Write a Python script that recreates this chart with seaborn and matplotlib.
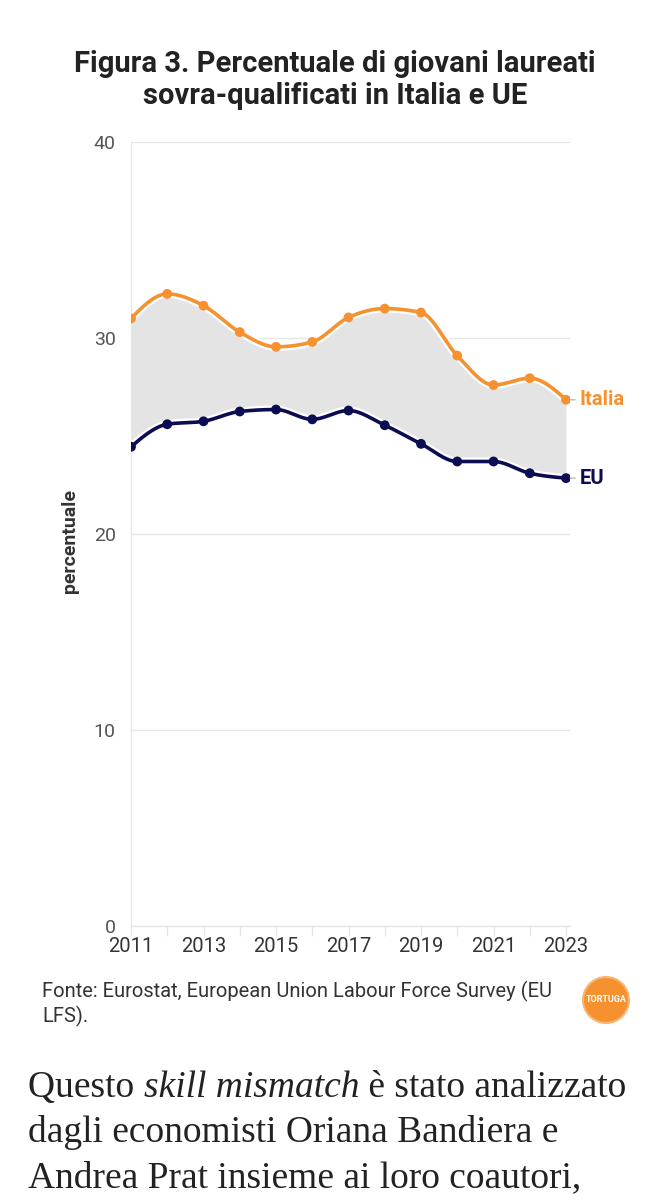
import numpy as np
import pandas as pd
import matplotlib
matplotlib.use("Agg")
import matplotlib.pyplot as plt
import matplotlib.patheffects as pe
from matplotlib.patches import Ellipse
import seaborn as sns

# -------------------------
# Data
# -------------------------
years = list(range(2011, 2024))
italia = [31.0, 32.25, 31.65, 30.3, 29.55, 29.8, 31.05, 31.5, 31.3, 29.1, 27.6, 27.95, 26.85]
eu = [24.45, 25.6, 25.75, 26.25, 26.35, 25.85, 26.3, 25.55, 24.6, 23.7, 23.7, 23.1, 22.85]

y_ticks = [0, 10, 20, 30, 40]
x_labels = [2011, 2013, 2015, 2017, 2019, 2021, 2023]

title = "Figura 3. Percentuale di giovani laureati\nsovra-qualificati in Italia e UE"
source = "Fonte: Eurostat, European Union Labour Force Survey (EU\nLFS)."

ORANGE = "#f5922f"
NAVY = "#0c0c52"
GRID = "#e6e6e6"


def monotone_curve(x, y, n=30):
    # monotone cubic (same shape as d3 curveMonotoneX) for drawing only
    x = np.asarray(x, float)
    y = np.asarray(y, float)
    h = np.diff(x)
    s = np.diff(y) / h
    t = np.zeros_like(y)
    for i in range(1, len(y) - 1):
        p = (s[i - 1] * h[i] + s[i] * h[i - 1]) / (h[i - 1] + h[i])
        t[i] = (np.sign(s[i - 1]) + np.sign(s[i])) * min(abs(s[i - 1]), abs(s[i]), 0.5 * abs(p))
    t[0] = (3 * s[0] - t[1]) / 2
    t[-1] = (3 * s[-1] - t[-2]) / 2
    xs, ys = [], []
    u = np.linspace(0, 1, n, endpoint=False)
    for i in range(len(h)):
        h00 = 2 * u**3 - 3 * u**2 + 1
        h10 = u**3 - 2 * u**2 + u
        h01 = -2 * u**3 + 3 * u**2
        h11 = u**3 - u**2
        ys.append(h00 * y[i] + h10 * h[i] * t[i] + h01 * y[i + 1] + h11 * h[i] * t[i + 1])
        xs.append(x[i] + u * h[i])
    xs.append([x[-1]])
    ys.append([y[-1]])
    return np.concatenate(xs), np.concatenate(ys)


df = pd.DataFrame({"anno": years, "Italia": italia, "EU": eu})
xs, it_s = monotone_curve(df["anno"], df["Italia"])
_, eu_s = monotone_curve(df["anno"], df["EU"])
smooth = pd.DataFrame({"anno": xs, "Italia": it_s, "EU": eu_s})

sns.set_theme(style="white")
plt.rcParams["font.family"] = ["Roboto", "DejaVu Sans"]

fig = plt.figure(figsize=(6.7, 12), dpi=100)
W, H = 670, 1200
ax = fig.add_axes([131 / W, 1 - 926 / H, (570 - 131) / W, (926 - 142) / H])

# -------------------------
# Area + lines
# -------------------------
ax.fill_between(smooth["anno"], smooth["EU"], smooth["Italia"], color="#e4e4e4", lw=0, zorder=1)

halo = [pe.Stroke(linewidth=5.8, foreground="white"), pe.Normal()]
for col, colour in [("Italia", ORANGE), ("EU", NAVY)]:
    sns.lineplot(data=smooth, x="anno", y=col, ax=ax, color=colour, lw=2.6,
                 path_effects=halo, zorder=3, sort=False)
    sns.scatterplot(data=df, x="anno", y=col, ax=ax, color=colour, s=50,
                    edgecolor="none", zorder=4)

# end labels
for col, colour in [("Italia", ORANGE), ("EU", NAVY)]:
    ax.annotate(col, xy=(years[-1], df[col].iloc[-1]), xytext=(10, 0),
                textcoords="offset points", ha="left", va="center",
                fontsize=14.5, fontweight="bold", color=colour, annotation_clip=False,
                arrowprops=dict(arrowstyle="-", color="#bbbbbb", lw=1,
                                shrinkA=1, shrinkB=0, relpos=(0, 0.5)), zorder=2)

# -------------------------
# Axes styling
# -------------------------
ax.set_xlim(2011, 2023.11)
ax.set_ylim(0, 40)
ax.set_yticks(y_ticks)
ax.set_xticks(years, minor=True)
ax.set_xticks(x_labels)
ax.set_xticklabels([str(v) for v in x_labels])
ax.set_xlabel("")
ax.set_ylabel("")
ax.grid(axis="y", color=GRID, lw=1)
ax.set_axisbelow(True)
for side in ["top", "right"]:
    ax.spines[side].set_visible(False)
ax.spines["left"].set_color(GRID)
ax.spines["bottom"].set_color(GRID)
ax.spines["left"].set_linewidth(1)
ax.spines["bottom"].set_linewidth(1)
ax.tick_params(axis="y", length=8, width=1, color=GRID, labelsize=14, labelcolor="#555555", pad=3)
ax.tick_params(axis="x", which="both", length=7, width=1, color=GRID, labelsize=14.5,
               labelcolor="#333333", pad=1, bottom=True)
ax.tick_params(axis="x", which="minor", labelbottom=False)

# -------------------------
# Texts
# -------------------------
fig.text(335 / W, 1 - 80 / H, title, ha="center", va="center", fontsize=21,
         fontweight="bold", color="#222222", linespacing=1.18)
fig.text(70 / W, 1 - 541 / H, "percentuale", rotation=90, ha="center", va="center",
         fontsize=14, fontweight="bold", color="#333333")
fig.text(42 / W, 1 - 1004 / H, source, ha="left", va="center", fontsize=14.5,
         color="#333333", linespacing=1.2)

# logo
fig.add_artist(Ellipse((606 / W, 1 - 1000 / H), 46 / W, 46 / H, transform=fig.transFigure,
                       facecolor=ORANGE, edgecolor="#f8b777", lw=1.5))
fig.text(606 / W, 1 - 1000 / H, "TORTUGA", ha="center", va="center", fontsize=6.5,
         fontweight="bold", color="white")

# body text (serif, with italic part)
renderer = fig.canvas.get_renderer()
serif = ["Liberation Serif", "DejaVu Serif"]
body_size = 27
lines = [
    [("Questo ", "normal"), ("skill mismatch", "italic"), (" è stato analizzato", "normal")],
    [("dagli economisti Oriana Bandiera e", "normal")],
    [("Andrea Prat insieme ai loro coautori,", "normal")],
]
baselines = [1097, 1142, 1187]
for parts, base in zip(lines, baselines):
    x_px = 28
    for txt, style in parts:
        t = fig.text(x_px / W, 1 - base / H, txt, ha="left", va="baseline",
                     fontsize=body_size, family=serif, style=style, color="#222222")
        bb = t.get_window_extent(renderer=renderer)
        x_px += bb.width

fig.savefig("out.png", dpi=100)
plt.close(fig)
